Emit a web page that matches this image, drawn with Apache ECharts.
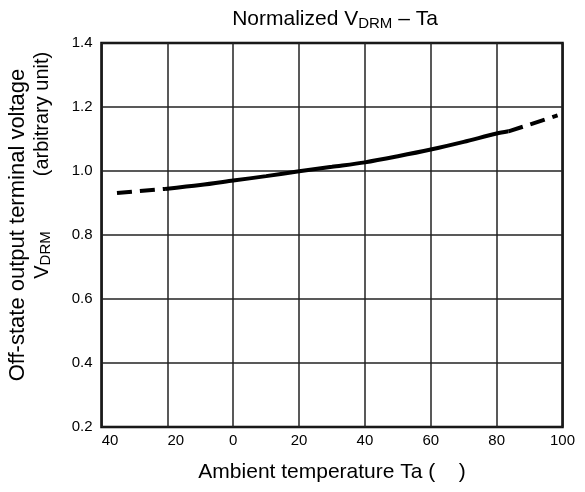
<!DOCTYPE html>
<html>
<head>
<meta charset="utf-8">
<script src="https://cdn.jsdelivr.net/npm/echarts@6/dist/echarts.min.js"></script>
<style>
html,body{margin:0;padding:0;background:#fff;}
#chart{width:585px;height:492px;}
</style>
</head>
<body>
<div id="chart"></div>
<script>
// ---- data ----
var xTickLabels = ['40', '20', '0', '20', '40', '60', '80', '100'];
var yTickLabels = ['0.2', '0.4', '0.6', '0.8', '1.0', '1.2', '1.4'];

var tempDashLeft = [-35.3, -20.7];
var vdrmDashLeft = [0.931, 0.944];

var tempSolid = [-20.7, -10, 0, 10, 20, 30, 40, 50, 60, 70, 80, 83.6];
var vdrmSolid = [0.944, 0.956, 0.970, 0.984, 0.999, 1.013, 1.027, 1.046, 1.067, 1.091, 1.117, 1.124];

var tempDashRight = [83.6, 90, 98.5];
var vdrmDashRight = [1.124, 1.145, 1.174];

function pairs(xs, ys) { return xs.map(function (x, i) { return [x, ys[i]]; }); }

var FONT = 'Liberation Sans, Arial, Helvetica, sans-serif';
var chart = echarts.init(document.getElementById('chart'), null, {renderer: 'canvas'});

var option = {
  backgroundColor: '#fff',
  animation: false,
  title: {
    text: 'Normalized V{sub|DRM} – Ta',
    left: 330, top: 3, textAlign: 'center',
    textStyle: {
      fontFamily: FONT, fontSize: 21, fontWeight: 'normal', color: '#000',
      rich: {
        sub: {fontFamily: FONT, fontSize: 15, color: '#000', padding: [8, 0, 0, 0]}
      }
    }
  },
  grid: {
    left: 101.5, right: 22.5, top: 43, bottom: 65,
    show: true, borderColor: '#000', borderWidth: 2.5, backgroundColor: 'transparent'
  },
  xAxis: {
    type: 'value', min: -40, max: 100, interval: 20,
    name: 'Ambient temperature Ta (    )',
    nameLocation: 'middle', nameGap: 35,
    nameTextStyle: {fontFamily: FONT, fontSize: 21, color: '#000'},
    axisLine: {show: false}, axisTick: {show: false},
    splitLine: {show: true, lineStyle: {color: '#222', width: 1.5}},
    axisLabel: {
      margin: 6, fontFamily: FONT, fontSize: 15, color: '#000',
      formatter: function (v) {
        var idx = Math.round((v + 40) / 20);
        var t = xTickLabels[idx];
        return v < 0 ? '{neg|' + t + '}' : t;
      },
      rich: {neg: {fontFamily: FONT, fontSize: 15, color: '#000', padding: [0, 0, 0, 17]}}
    }
  },
  yAxis: {
    type: 'value', min: 0.2, max: 1.4, interval: 0.2,
    axisLine: {show: false}, axisTick: {show: false},
    splitLine: {show: true, lineStyle: {color: '#222', width: 1.5}},
    axisLabel: {
      margin: 9, fontFamily: FONT, fontSize: 15, color: '#000',
      formatter: function (v) {
        var idx = Math.round((v - 0.2) / 0.2);
        return yTickLabels[idx];
      }
    }
  },
  graphic: [
    {
      type: 'text', x: 18, y: 225, rotation: Math.PI / 2,
      style: {
        text: 'Off-state output terminal voltage',
        fontFamily: FONT, fontSize: 22, fill: '#000',
        align: 'center', verticalAlign: 'middle'
      }
    },
    {
      type: 'text', x: 42, y: 114, rotation: Math.PI / 2,
      style: {
        text: '(arbitrary unit)',
        fontFamily: FONT, fontSize: 20, fill: '#000',
        align: 'center', verticalAlign: 'middle'
      }
    },
    {
      type: 'text', x: 42, y: 255, rotation: Math.PI / 2,
      style: {
        text: 'V{sub|DRM}',
        fontFamily: FONT, fontSize: 20, fill: '#000',
        align: 'center', verticalAlign: 'middle',
        rich: {sub: {fontFamily: FONT, fontSize: 15, fill: '#000', padding: [8, 0, 0, 0]}}
      }
    }
  ],
  series: [
    {
      type: 'line', data: pairs(tempDashLeft, vdrmDashLeft), showSymbol: false, symbol: 'none',
      lineStyle: {color: '#000', width: 4, type: [15, 8], cap: 'butt'}, z: 5
    },
    {
      type: 'line', data: pairs(tempSolid, vdrmSolid), showSymbol: false, symbol: 'none', smooth: 0.3,
      lineStyle: {color: '#000', width: 4, type: 'solid'}, z: 5
    },
    {
      type: 'line', data: pairs(tempDashRight, vdrmDashRight), showSymbol: false, symbol: 'none', smooth: 0.3,
      lineStyle: {color: '#000', width: 4, type: [15, 8], cap: 'butt'}, z: 5
    }
  ]
};
chart.setOption(option);
</script>
</body>
</html>
